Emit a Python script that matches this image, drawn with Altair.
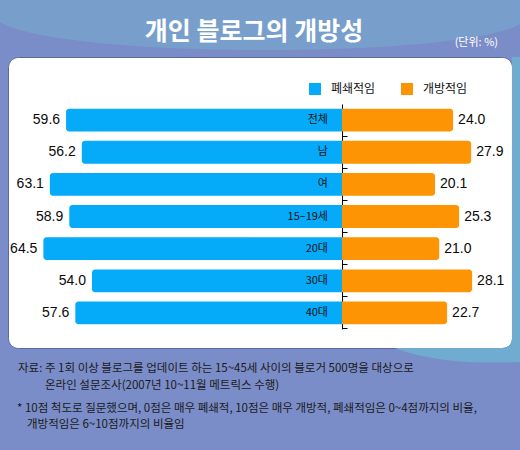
import altair as alt
import pandas as pd

# ---- data ----
categories = ["전체", "남", "여", "15–19세", "20대", "30대", "40대"]
closed_vals = [59.6, 56.2, 63.1, 58.9, 64.5, 54.0, 57.6]
open_vals = [24.0, 27.9, 20.1, 25.3, 21.0, 28.1, 22.7]
series = ["폐쇄적임", "개방적임"]
colors = ["#05aaf9", "#fd9404"]

title_text = ["개인 블로그의 개방성"]
unit_text = ["(단위: %)"]
note_lines = [
    "자료: 주 1회 이상 블로그를 업데이트 하는 15~45세 사이의 블로거 500명을 대상으로",
    "온라인 설문조사(2007년 10~11월 메트릭스 수행)",
    "* 10점 척도로 질문했으며, 0점은 매우 폐쇄적, 10점은 매우 개방적, 폐쇄적임은 0~4점까지의 비율,",
    "개방적임은 6~10점까지의 비율임",
]

df = pd.DataFrame({"cat": categories, "closed": closed_vals, "open": open_vals})
df["closed_neg"] = -df["closed"]
df["zero"] = 0.0
df["s_closed"] = series[0]
df["s_open"] = series[1]
df["closed_lbl"] = [f"{v:.1f}" for v in closed_vals]
df["open_lbl"] = [f"{v:.1f}" for v in open_vals]

KR = "Noto Sans CJK KR"
NUM = "Liberation Sans"

xscale = alt.Scale(domain=[-72.14, 36.72], nice=False, zero=False)
yscale = alt.Scale(domain=categories, range=[47, 272], paddingInner=0.29, paddingOuter=0.145)
cscale = alt.Scale(domain=series, range=colors)

base = alt.Chart(df)

legend = alt.Legend(
    title=None, orient="none", legendX=301, legendY=26, direction="horizontal",
    symbolType="square", symbolSize=144, symbolStrokeWidth=0, symbolOpacity=1,
    labelFont=KR, labelFontSize=12, labelColor="#111111", labelOffset=10,
    columnPadding=25, padding=0,
)

y_enc = alt.Y(
    "cat:N", sort=categories, scale=yscale,
    axis=alt.Axis(orient="right", offset=-170, labels=False, title=None,
                  domainColor="black", tickColor="black", tickSize=5,
                  domainWidth=1, tickWidth=1, bandPosition=1.2, zindex=0, grid=False),
)
y_plain = alt.Y("cat:N", sort=categories, scale=yscale)

closed_bars = base.mark_rect(cornerRadiusTopLeft=3, cornerRadiusBottomLeft=3).encode(
    x=alt.X("closed_neg:Q", scale=xscale, axis=None),
    x2="zero:Q",
    y=y_enc,
    color=alt.Color("s_closed:N", scale=cscale, legend=legend),
)
open_bars = base.mark_rect(cornerRadiusTopRight=3, cornerRadiusBottomRight=3).encode(
    x=alt.X("zero:Q", scale=xscale, axis=None),
    x2="open:Q",
    y=y_plain,
    color=alt.Color("s_open:N", scale=cscale, legend=legend),
)

closed_text = base.mark_text(align="right", baseline="middle", dx=-6, font=NUM,
                             fontSize=14, color="#0a0a0a").encode(
    x=alt.X("closed_neg:Q", scale=xscale, axis=None), y=y_plain, text="closed_lbl:N")
open_text = base.mark_text(align="left", baseline="middle", dx=5, font=NUM,
                           fontSize=14, color="#0a0a0a").encode(
    x=alt.X("open:Q", scale=xscale, axis=None), y=y_plain, text="open_lbl:N")
cat_text = base.mark_text(align="right", baseline="middle", dx=-14, font=KR,
                          fontSize=11, color="#111111").encode(
    x=alt.X("zero:Q", scale=xscale, axis=None), y=y_plain, text="cat:N")

one = pd.DataFrame({"a": [0]})

# background decorations (outside the white panel)
top_path = ("M -1.05 -0.3 L 1.05 -0.3 L 1.05 0.0923 L 1 0.0923 "
            "C 0.769 0.2269 -0.769 0.2269 -1 0.0846 L -1.05 0.0846 Z")
teal_path = ("M 0.969 0.219 L 1.05 0.219 L 1.05 1.392 L 1 1.392 "
             "C 0.846 1.4 0.654 1.392 0.519 1.338 L 0.931 1.338 "
             "Q 0.969 1.338 0.969 1.3 Z")
top_deco = alt.Chart(one).mark_point(shape=top_path, filled=True, fill="#789fcb",
                                     strokeWidth=0, opacity=1).encode(
    x=alt.value(252), y=alt.value(-57), size=alt.value(270400))
teal_deco = alt.Chart(one).mark_point(shape=teal_path, filled=True, fill="#70abd0",
                                      strokeWidth=0, opacity=1).encode(
    x=alt.value(252), y=alt.value(-57), size=alt.value(270400))

title = alt.Chart(pd.DataFrame({"t": title_text})).mark_text(
    font=KR, fontSize=25, fontWeight="bold", color="white", align="center",
    baseline="middle").encode(text="t:N", x=alt.value(246), y=alt.value(-25))
unit = alt.Chart(pd.DataFrame({"t": unit_text})).mark_text(
    font=KR, fontSize=11, color="white", align="right",
    baseline="middle").encode(text="t:N", x=alt.value(490), y=alt.value(-14))

note_pos = [(10, 311.5), (37, 328.5), (9, 351.5), (19, 368)]
notes = []
for line, (nx, ny) in zip(note_lines, note_pos):
    notes.append(alt.Chart(pd.DataFrame({"t": [line]})).mark_text(
        font=KR, fontSize=11.5, color="#1a1a1a", align="left", baseline="middle"
    ).encode(text="t:N", x=alt.value(nx), y=alt.value(ny)))

chart = alt.layer(
    top_deco, teal_deco, title, unit,
    closed_bars, open_bars, closed_text, open_text, cat_text, *notes
).properties(
    width=504, height=291,
    padding={"left": 8, "top": 57, "right": 8, "bottom": 102},
    autosize=alt.AutoSizeParams(type="none"),
).configure(background="#7b8dc8").configure_view(
    fill="white", stroke="#5b6a9c", strokeWidth=1, cornerRadius=10
)

chart.save("out.html", embed_options={"renderer": "svg", "actions": False})
